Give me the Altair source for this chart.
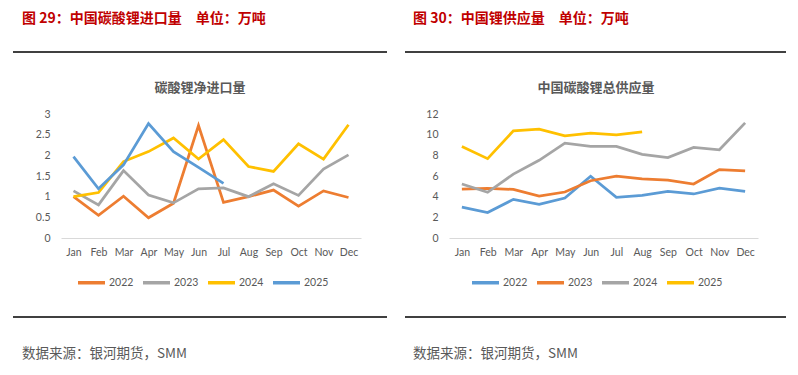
import altair as alt
import pandas as pd

months = ["Jan", "Feb", "Mar", "Apr", "May", "Jun", "Jul", "Aug", "Sep", "Oct", "Nov", "Dec"]
years = ["2022", "2023", "2024", "2025"]

# Figure 29: net imports of lithium carbonate (10k t)
imp_2022 = [1.00, 0.55, 1.01, 0.49, 0.84, 2.72, 0.86, 1.00, 1.16, 0.77, 1.14, 0.98]
imp_2023 = [1.14, 0.80, 1.63, 1.04, 0.85, 1.19, 1.21, 1.00, 1.31, 1.03, 1.67, 2.01]
imp_2024 = [1.00, 1.10, 1.85, 2.09, 2.42, 1.91, 2.38, 1.73, 1.61, 2.28, 1.91, 2.74]
imp_2025 = [1.97, 1.19, 1.77, 2.77, 2.09, 1.71, 1.32]

# Figure 30: total supply of lithium carbonate (10k t)
sup_2022 = [2.98, 2.46, 3.74, 3.26, 3.87, 5.98, 3.94, 4.13, 4.51, 4.26, 4.83, 4.51]
sup_2023 = [4.74, 4.80, 4.70, 4.06, 4.45, 5.54, 5.98, 5.73, 5.60, 5.22, 6.62, 6.50]
sup_2024 = [5.22, 4.42, 6.18, 7.52, 9.18, 8.86, 8.86, 8.10, 7.78, 8.77, 8.54, 11.14]
sup_2025 = [8.86, 7.68, 10.37, 10.53, 9.89, 10.14, 9.98, 10.27]

left_colors = ["#ED7D31", "#A5A5A5", "#FFC000", "#5B9BD5"]
right_colors = ["#5B9BD5", "#ED7D31", "#A5A5A5", "#FFC000"]


def long_df(series):
    rows = []
    for y, vals in zip(years, series):
        for m, v in zip(months, vals):
            rows.append({"month": m, "year": y, "value": v})
    return pd.DataFrame(rows)


df_left = long_df([imp_2022, imp_2023, imp_2024, imp_2025])
df_right = long_df([sup_2022, sup_2023, sup_2024, sup_2025])

LAB = "#595959"
CJK = "Noto Sans CJK SC"
NUM = "Lato"


def panel(df, colors, ymax, ystep, width, inner_title, title_x, heading, rule_x1, rule_x2,
          legend_x, head_x, bounds_rect=False):
    yvals = []
    v = 0.0
    while v <= ymax + 1e-9:
        yvals.append(round(v, 2))
        v += ystep
    lines = alt.Chart(df).mark_line(strokeWidth=2.75).encode(
        x=alt.X("month:N", sort=months,
                scale=alt.Scale(type="point", padding=0.5),
                axis=alt.Axis(title=None, labelAngle=0, ticks=False, domainColor="#D9D9D9",
                              domainWidth=1, labelPadding=9, labelFont=NUM, labelFontSize=10.5,
                              labelColor=LAB, grid=False)),
        y=alt.Y("value:Q", scale=alt.Scale(domain=[0, ymax], nice=False, zero=True),
                axis=alt.Axis(title=None, values=yvals, format=".1~f", domain=False, ticks=False,
                              grid=False, labelPadding=11, labelFont=NUM, labelFontSize=10.5,
                              labelColor=LAB)),
        color=alt.Color("year:N", scale=alt.Scale(domain=years, range=colors),
                        legend=alt.Legend(title=None, orient="none", legendX=legend_x, legendY=153,
                                          direction="horizontal", symbolType="stroke",
                                          symbolSize=729, symbolStrokeWidth=3.5,
                                          labelFont=NUM, labelFontSize=10.5, labelColor=LAB,
                                          labelOffset=2, columnPadding=2)),
    )
    title = alt.Chart(pd.DataFrame({"t": [inner_title]})).mark_text(
        font=CJK, fontSize=13, fontWeight="bold", color=LAB, align="center", baseline="middle"
    ).encode(text="t:N", x=alt.value(title_x), y=alt.value(-26))
    head = alt.Chart(pd.DataFrame({"t": [heading]})).mark_text(
        font=CJK, fontSize=14, fontWeight="bold", color="#C00000", align="left", baseline="middle"
    ).encode(text="t:N", x=alt.value(head_x), y=alt.value(-95))
    src = alt.Chart(pd.DataFrame({"t": ["数据来源：银河期货，SMM"]})).mark_text(
        font=CJK, fontSize=13.5, color=LAB, align="left", baseline="middle"
    ).encode(text="t:N", x=alt.value(head_x), y=alt.value(240))
    rule_top = alt.Chart(pd.DataFrame({"a": [0]})).mark_rule(color="#000000", strokeWidth=1.3).encode(
        x=alt.value(rule_x1), x2=alt.value(rule_x2), y=alt.value(-62))
    rule_bot = alt.Chart(pd.DataFrame({"a": [0]})).mark_rule(color="#000000", strokeWidth=1.3).encode(
        x=alt.value(rule_x1), x2=alt.value(rule_x2), y=alt.value(203))
    layers = [lines, title, head, src, rule_top, rule_bot]
    if bounds_rect:
        box = alt.Chart(pd.DataFrame({"a": [0]})).mark_rect(opacity=0).encode(
            x=alt.value(-53), x2=alt.value(727), y=alt.value(-106), y2=alt.value(253))
        layers.append(box)
    return alt.layer(*layers).properties(width=width, height=124)


left = panel(df_left, left_colors, 3, 0.5, 300, "碳酸锂净进口量", 139,
             "图 29：中国碳酸锂进口量\u3000单位：万吨", -48, 326, 15, -39, bounds_rect=True)
right = panel(df_right, right_colors, 12, 2, 309, "中国碳酸锂总供应量", 147,
              "图 30：中国锂供应量\u3000单位：万吨", -44, 337, 21, -36)

chart = alt.hconcat(left, right, spacing=88, bounds="flush").resolve_scale(
    color="independent", x="independent", y="independent"
).properties(padding=0).configure_view(stroke=None)

chart.save("out.html", embed_options={"renderer": "svg", "actions": False})
